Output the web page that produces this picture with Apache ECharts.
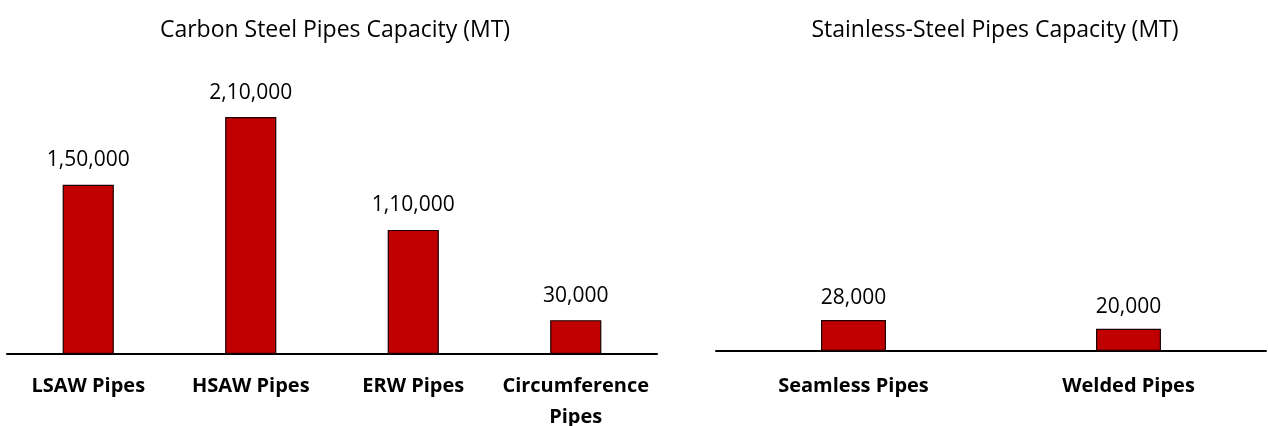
<!DOCTYPE html>
<html><head><meta charset="utf-8">
<script src="https://cdn.jsdelivr.net/npm/echarts@6/dist/echarts.min.js"></script>
<style>html,body{margin:0;padding:0;background:#fff}#c{width:1268px;height:426px}</style>
</head><body><div id="c"></div>
<script>
const carbonCategories = ['LSAW Pipes', 'HSAW Pipes', 'ERW Pipes', 'Circumference\nPipes'];
const carbonValues = [150000, 210000, 110000, 30000];
const stainlessCategories = ['Seamless Pipes', 'Welded Pipes'];
const stainlessValues = [28000, 20000];
const titles = ['Carbon Steel Pipes Capacity (MT)', 'Stainless-Steel Pipes Capacity (MT)'];

const fmt = v => {
  // Indian digit grouping
  const s = String(v);
  if (s.length <= 3) return s;
  const last3 = s.slice(-3);
  let rest = s.slice(0, -3);
  const parts = [];
  while (rest.length > 2) { parts.unshift(rest.slice(-2)); rest = rest.slice(0, -2); }
  if (rest) parts.unshift(rest);
  return parts.join(',') + ',' + last3;
};
const FONT = '"Open Sans", sans-serif';
const chart = echarts.init(document.getElementById('c'));
const barStyle = { color: '#C00000', borderColor: '#1a0000', borderWidth: 1.2 };
const labelCfg = d => ({ show: true, position: 'top', distance: d, color: '#000', fontSize: 21, fontFamily: FONT, formatter: p => fmt(p.value) });
const xAxisCommon = m => ({
  type: 'category',
  axisLine: { lineStyle: { color: '#000', width: 2 } },
  axisTick: { show: false },
  axisLabel: { color: '#000', fontSize: 20, fontWeight: 'bold', fontFamily: FONT, margin: m, lineHeight: 31, interval: 0 }
});
const yAxisCommon = { type: 'value', min: 0, max: 250000, show: false, splitLine: { show: false } };
chart.setOption({
  animation: false,
  title: [
    { text: titles[0], left: 330, top: 14, textAlign: 'center', textStyle: { fontSize: 23, fontWeight: 'normal', color: '#000', fontFamily: FONT } },
    { text: titles[1], left: 990, top: 14, textAlign: 'center', textStyle: { fontSize: 23, fontWeight: 'normal', color: '#000', fontFamily: FONT } }
  ],
  grid: [
    { left: 7, width: 650, top: 72, bottom: 72, outerBoundsMode: 'none', containLabel: false },
    { left: 716, width: 550, top: 74, bottom: 75, outerBoundsMode: 'none', containLabel: false }
  ],
  xAxis: [
    Object.assign({ gridIndex: 0, data: carbonCategories }, xAxisCommon(17)),
    Object.assign({ gridIndex: 1, data: stainlessCategories }, xAxisCommon(20))
  ],
  yAxis: [
    Object.assign({ gridIndex: 0 }, yAxisCommon),
    Object.assign({ gridIndex: 1 }, yAxisCommon)
  ],
  series: [
    { type: 'bar', xAxisIndex: 0, yAxisIndex: 0, data: carbonValues, barWidth: '31.5%', itemStyle: barStyle, label: labelCfg(14) },
    { type: 'bar', xAxisIndex: 1, yAxisIndex: 1, data: stainlessValues, barWidth: '23.6%', itemStyle: barStyle, label: labelCfg(11) }
  ]
});
</script></body></html>
